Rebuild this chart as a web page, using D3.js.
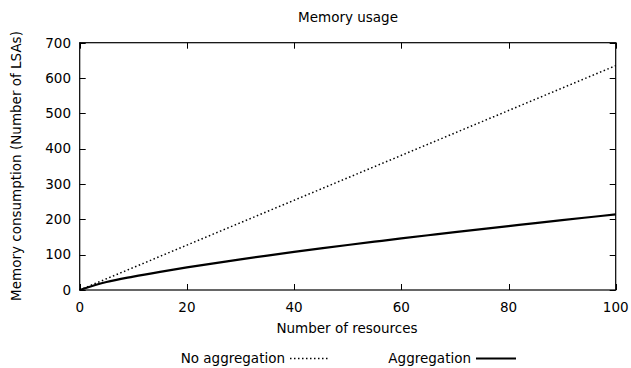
<!DOCTYPE html>
<html><head><meta charset="utf-8">
<script src="https://cdn.jsdelivr.net/npm/d3@7"></script>
<style>body{margin:0;background:#fff}text{font-family:"DejaVu Sans",sans-serif;font-size:13.5px;fill:#000}</style>
</head><body><svg id="c" width="631" height="368"></svg>
<script>
const resources = [0,5,10,15,20,25,30,35,40,45,50,55,60,65,70,75,80,85,90,95,100];
const noAggregation = [0,31.8,63.5,95.3,127,158.8,190.5,222.3,254,285.8,317.5,349.3,381,412.8,444.5,476.3,508,539.8,571.5,603.3,635];
const aggregation = [0,22.6,38,51.5,64,75.6,86.8,97.4,107.7,117.6,127.3,136.7,146,155,163.9,172.5,181,189.5,197.8,205.9,214];
const xTicks = [0,20,40,60,80,100];
const yTicks = [0,100,200,300,400,500,600,700];
const title = "Memory usage";
const xTitle = "Number of resources";
const yTitle = "Memory consumption (Number of LSAs)";
const seriesNames = ["No aggregation","Aggregation"];

const svg = d3.select("#c");
const L=79.7,R=615.7,T=42.7,B=290;
const x = d3.scaleLinear().domain([0,100]).range([L,R]);
const y = d3.scaleLinear().domain([0,700]).range([B,T]);
const tl = 6;

const tg = svg.append("g").attr("stroke","#000").attr("stroke-width",1);
xTicks.forEach(v=>{
  const px = Math.round(x(v))+0.5;
  tg.append("line").attr("x1",px).attr("x2",px).attr("y1",B).attr("y2",B-tl);
  tg.append("line").attr("x1",px).attr("x2",px).attr("y1",T).attr("y2",T+tl);
  svg.append("text").attr("x",x(v)).attr("y",312).attr("text-anchor","middle").text(v);
});
yTicks.forEach(v=>{
  const py = Math.round(y(v))+0.5;
  tg.append("line").attr("x1",L).attr("x2",L+tl).attr("y1",py).attr("y2",py);
  tg.append("line").attr("x1",R).attr("x2",R-tl).attr("y1",py).attr("y2",py);
  svg.append("text").attr("x",71).attr("y",y(v)+4.8).attr("text-anchor","end").text(v);
});
svg.append("rect").attr("x",L).attr("y",T).attr("width",R-L).attr("height",B-T)
  .attr("fill","none").attr("stroke","#000").attr("stroke-width",1.2);

const line = d3.line().x((d,i)=>x(resources[i])).y(d=>y(d)).curve(d3.curveMonotoneX);
svg.append("path").attr("d",line(noAggregation)).attr("fill","none").attr("stroke","#000")
  .attr("stroke-width",1.5).attr("stroke-dasharray","1.5,2.5");
svg.append("path").attr("d",line(aggregation)).attr("fill","none").attr("stroke","#000")
  .attr("stroke-width",2.2);

svg.append("text").attr("x",348).attr("y",22).attr("text-anchor","middle").text(title);
svg.append("text").attr("x",347).attr("y",333).attr("text-anchor","middle").text(xTitle);
svg.append("text").attr("transform","translate(21,166) rotate(-90)").attr("text-anchor","middle").text(yTitle);

svg.append("text").attr("x",285).attr("y",363).attr("text-anchor","end").text(seriesNames[0]);
svg.append("line").attr("x1",290).attr("x2",330).attr("y1",358.5).attr("y2",358.5)
  .attr("stroke","#000").attr("stroke-width",1.5).attr("stroke-dasharray","1.5,2.5");
svg.append("text").attr("x",471).attr("y",363).attr("text-anchor","end").text(seriesNames[1]);
svg.append("line").attr("x1",476).attr("x2",516).attr("y1",358.5).attr("y2",358.5)
  .attr("stroke","#000").attr("stroke-width",2.2);
</script></body></html>
